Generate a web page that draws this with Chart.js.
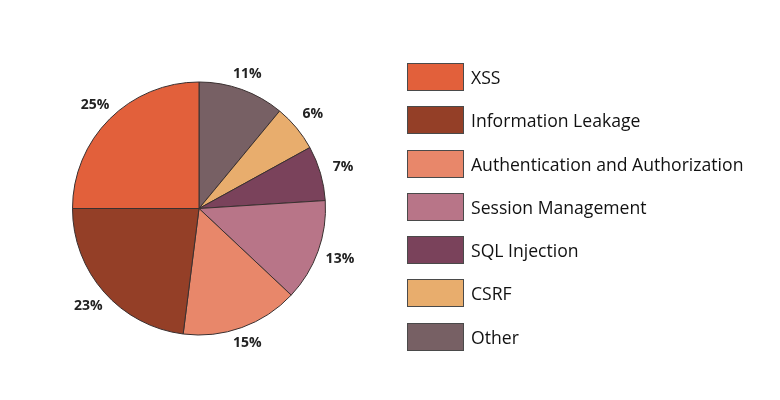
<!DOCTYPE html>
<html>
<head>
<meta charset="utf-8">
<script src="https://cdn.jsdelivr.net/npm/chart.js@4.4.1/dist/chart.umd.min.js"></script>
<style>
  html, body { margin: 0; padding: 0; background: #ffffff; }
  #wrap { position: relative; width: 780px; height: 400px; }
  #c { position: absolute; left: 0; top: 0; }
  #legend { position: absolute; left: 407px; top: 63px; margin: 0; padding: 0; list-style: none;
            font-family: "Open Sans", sans-serif; font-size: 17.6px; color: #111111; }
  #legend li { height: 28px; margin-bottom: 15.3px; display: flex; align-items: center; white-space: nowrap; }
  #legend .box { width: 55px; height: 26px; border: 1px solid #4a4a4a; margin-right: 7px; flex: none; }
</style>
</head>
<body>
<div id="wrap">
  <canvas id="c" width="780" height="400"></canvas>
  <ul id="legend"></ul>
</div>
<script>
// Data (legend order)
const categories = ["XSS", "Information Leakage", "Authentication and Authorization", "Session Management", "SQL Injection", "CSRF", "Other"];
const values = [25, 23, 15, 13, 7, 6, 11];
const colors = ["#E2603B", "#943F27", "#E8876A", "#B87588", "#7A425B", "#E8AD6D", "#776064"];

// The pie runs counter-clockwise from 12 o'clock in the reference; Chart.js goes clockwise,
// so the slices are fed in reverse order.
const pieLabels = categories.slice().reverse();
const pieValues = values.slice().reverse();
const pieColors = colors.slice().reverse();

const outsideLabels = {
  id: 'outsideLabels',
  afterDatasetsDraw(chart) {
    const ctx = chart.ctx;
    const meta = chart.getDatasetMeta(0);
    ctx.save();
    ctx.font = 'bold 14px "Open Sans", sans-serif';
    ctx.fillStyle = '#222222';
    ctx.textAlign = 'center';
    ctx.textBaseline = 'middle';
    meta.data.forEach((arc, i) => {
      const mid = (arc.startAngle + arc.endAngle) / 2;
      const r = arc.outerRadius + 12 + Math.abs(Math.cos(mid)) * 12;
      const x = arc.x + Math.cos(mid) * r;
      const y = arc.y + Math.sin(mid) * r;
      ctx.fillText(pieValues[i] + '%', x, y);
    });
    ctx.restore();
  }
};

new Chart(document.getElementById('c'), {
  type: 'pie',
  data: {
    labels: pieLabels,
    datasets: [{
      data: pieValues,
      backgroundColor: pieColors,
      borderColor: '#3a3030',
      borderWidth: 1
    }]
  },
  options: {
    responsive: false,
    animation: false,
    radius: 126.5,
    layout: { padding: { left: 0, right: 382, top: 17, bottom: 0 } },
    plugins: {
      legend: { display: false },
      tooltip: { enabled: false }
    }
  },
  plugins: [outsideLabels]
});

const legend = document.getElementById('legend');
categories.forEach((name, i) => {
  const li = document.createElement('li');
  const box = document.createElement('span');
  box.className = 'box';
  box.style.background = colors[i];
  const txt = document.createElement('span');
  txt.textContent = name;
  li.appendChild(box);
  li.appendChild(txt);
  legend.appendChild(li);
});
</script>
</body>
</html>
